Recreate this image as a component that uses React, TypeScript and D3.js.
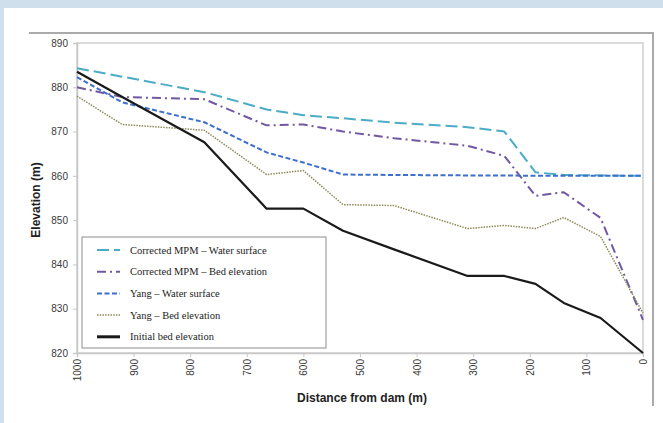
import { useEffect, useRef } from 'react';
import * as d3 from 'd3';

const distances = [1000, 920, 775, 665, 600, 530, 440, 310, 245, 190, 140, 75, 0];
const mpmWater = [884.3, 882.4, 878.9, 875, 873.7, 873, 872, 871, 870, 860.8, 860.2, 860.1, 860];
const mpmBed = [880, 877.8, 877.3, 871.4, 871.6, 870, 868.5, 866.8, 864.5, 855.5, 856.3, 850.5, 827.5];
const yangWater = [882.3, 876.6, 872.1, 865.3, 863, 860.3, 860.2, 860.1, 860.1, 860, 860, 860, 860];
const yangBed = [878, 871.6, 870.3, 860.3, 861.2, 853.5, 853.3, 848.1, 848.8, 848.1, 850.6, 846.3, 829];
const initialBed = [883.5, 877.8, 867.6, 852.6, 852.6, 847.6, 843.4, 837.4, 837.4, 835.6, 831.3, 827.9, 820];

const xTicks = [1000, 900, 800, 700, 600, 500, 400, 300, 200, 100, 0];
const yTicks = [820, 830, 840, 850, 860, 870, 880, 890];

const seriesList = [
  { name: 'Corrected MPM – Water surface', values: mpmWater, color: '#4bacc6', dash: '12,5', width: 2 },
  { name: 'Corrected MPM – Bed elevation', values: mpmBed, color: '#7058a3', dash: '9,4,2,4', width: 2 },
  { name: 'Yang – Water surface', values: yangWater, color: '#3f6fcc', dash: '5,2.5', width: 2 },
  { name: 'Yang – Bed elevation', values: yangBed, color: '#8c8a5a', dash: '1.5,1.2', width: 1.5 },
  { name: 'Initial bed elevation', values: initialBed, color: '#1a1a1a', dash: '', width: 2.2 },
];

const W = 663;
const H = 423;
const margin = { left: 77, right: 20, top: 43, bottom: 70 };

export default function App() {
  const ref = useRef<SVGSVGElement>(null);

  useEffect(() => {
    const svg = d3.select(ref.current);
    svg.selectAll('*').remove();

    // page background + white panel
    svg.append('rect').attr('width', W).attr('height', H).attr('fill', '#cfdfeb');
    svg.append('rect').attr('x', 4).attr('y', 8).attr('width', W - 4).attr('height', H - 8).attr('fill', '#fff');

    // chart frame (top + right edge only)
    svg
      .append('path')
      .attr('d', 'M29,33H653V406')
      .attr('fill', 'none')
      .attr('stroke', '#aaaaaa')
      .attr('stroke-width', 2);

    const x = d3.scaleLinear().domain([1000, 0]).range([margin.left, 643]);
    const y = d3.scaleLinear().domain([820, 890]).range([353, margin.top]);

    // plot area border
    svg
      .append('rect')
      .attr('x', x(1000))
      .attr('y', y(890))
      .attr('width', x(0) - x(1000))
      .attr('height', y(820) - y(890))
      .attr('fill', '#fff')
      .attr('stroke', '#cfcfcf')
      .attr('stroke-width', 1.5);

    // y axis
    const yAxis = svg
      .append('g')
      .attr('transform', `translate(${x(1000)},0)`)
      .call(d3.axisLeft(y).tickValues(yTicks).tickSize(4).tickPadding(5));
    yAxis.select('.domain').attr('stroke', '#c8c8c8').attr('stroke-width', 1.5);
    yAxis.selectAll('line').attr('stroke', '#c8c8c8');
    yAxis
      .selectAll('text')
      .attr('font-family', 'Liberation Sans, Arial, sans-serif')
      .attr('font-size', 10)
      .attr('fill', '#3a3a3a');

    // x axis
    const xAxis = svg
      .append('g')
      .attr('transform', `translate(0,${y(820)})`)
      .call(d3.axisBottom(x).tickValues(xTicks).tickFormat(d3.format('d')).tickSize(4).tickPadding(5));
    xAxis.select('.domain').attr('stroke', '#c8c8c8').attr('stroke-width', 1.5);
    xAxis.selectAll('line').attr('stroke', '#c8c8c8');
    xAxis
      .selectAll('text')
      .attr('font-family', 'Liberation Sans, Arial, sans-serif')
      .attr('font-size', 10)
      .attr('fill', '#3a3a3a')
      .attr('transform', 'rotate(-90)')
      .attr('text-anchor', 'end')
      .attr('x', -6)
      .attr('y', 0)
      .attr('dy', '0.35em');

    // axis titles
    svg
      .append('text')
      .attr('transform', `translate(40,200) rotate(-90)`)
      .attr('text-anchor', 'middle')
      .attr('font-family', 'Liberation Sans, Arial, sans-serif')
      .attr('font-weight', 'bold')
      .attr('font-size', 12)
      .attr('fill', '#222')
      .text('Elevation (m)');
    svg
      .append('text')
      .attr('x', 362)
      .attr('y', 402)
      .attr('text-anchor', 'middle')
      .attr('font-family', 'Liberation Sans, Arial, sans-serif')
      .attr('font-weight', 'bold')
      .attr('font-size', 12)
      .attr('fill', '#222')
      .text('Distance from dam (m)');

    // lines
    const line = d3
      .line<number>()
      .x((_, i) => x(distances[i]))
      .y((d) => y(d));

    seriesList.forEach((s) => {
      svg
        .append('path')
        .datum(s.values)
        .attr('d', line)
        .attr('fill', 'none')
        .attr('stroke', s.color)
        .attr('stroke-width', s.width)
        .attr('stroke-dasharray', s.dash || null)
        .attr('stroke-linejoin', 'round');
    });

    // legend
    const lg = svg.append('g').attr('transform', 'translate(82,237)');
    lg.append('rect')
      .attr('width', 244)
      .attr('height', 111)
      .attr('fill', '#fff')
      .attr('stroke', '#8c8c8c')
      .attr('stroke-width', 1);
    seriesList.forEach((s, i) => {
      const ly = 13 + i * 21.7;
      lg.append('line')
        .attr('x1', 15)
        .attr('x2', 38)
        .attr('y1', ly)
        .attr('y2', ly)
        .attr('stroke', s.color)
        .attr('stroke-width', i === 4 ? 3 : s.width)
        .attr('stroke-dasharray', s.dash || null);
      lg.append('text')
        .attr('x', 48)
        .attr('y', ly)
        .attr('dy', '0.35em')
        .attr('font-family', 'Liberation Serif, Times New Roman, serif')
        .attr('font-size', 10.5)
        .attr('fill', '#222')
        .text(s.name);
    });
  }, []);

  return (
    <div style={{ position: 'fixed', left: 0, top: 0 }}>
      <svg ref={ref} width={W} height={H} style={{ display: 'block' }} />
    </div>
  );
}
